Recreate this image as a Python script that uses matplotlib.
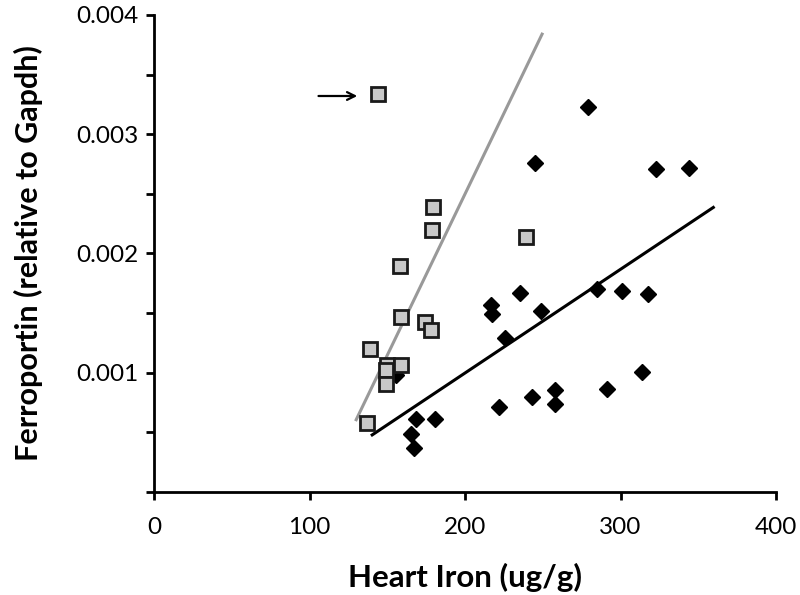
import matplotlib.pyplot as plt
from matplotlib.ticker import MultipleLocator

# ---- data ----
# group 1 (grey squares)
sq_iron = [144.2, 179.5, 178.9, 158.3, 158.9, 174.2, 178.0, 138.8,
           150.0, 158.7, 149.2, 148.9, 136.7, 239.1]
sq_fpn = [0.003335, 0.00239, 0.002195, 0.001898, 0.001468, 0.001428,
          0.001361, 0.001199, 0.001068, 0.001068, 0.00102, 0.000906,
          0.000576, 0.00214]

# group 2 (black diamonds)
dm_iron = [155.5, 168.8, 180.8, 165.0, 167.1, 216.6, 217.2, 235.4,
           248.9, 225.6, 284.9, 300.8, 317.9, 313.8, 291.3, 257.9,
           257.9, 243.1, 221.9, 279.1, 244.9, 322.6, 344.3]
dm_fpn = [0.000981, 0.000612, 0.000612, 0.000489, 0.000366, 0.001568,
          0.001495, 0.001669, 0.00152, 0.001291, 0.001702, 0.001683,
          0.00166, 0.001006, 0.000861, 0.000855, 0.00074, 0.000794,
          0.000715, 0.003226, 0.002761, 0.002711, 0.00272]

# trend lines (end points)
sq_trend_x = [129.6, 250.0]
sq_trend_y = [0.000595, 0.00385]
dm_trend_x = [139.5, 360.5]
dm_trend_y = [0.000472, 0.002393]

# outlier arrow
arrow_tail = (104.0, 0.00332)
arrow_head = (132.5, 0.00332)

plt.rcParams['font.family'] = ['Lato', 'DejaVu Sans']

fig = plt.figure(figsize=(8, 5.95), dpi=100)
ax = fig.add_axes([0.1925, 0.173, 0.7775, 0.802])

ax.plot(sq_trend_x, sq_trend_y, color='#999999', lw=2.2, solid_capstyle='butt', zorder=2)
ax.plot(dm_trend_x, dm_trend_y, color='black', lw=2.2, solid_capstyle='butt', zorder=2)

ax.plot(dm_iron, dm_fpn, ls='none', marker='D', ms=8, mfc='black',
        mec='black', zorder=3)
ax.plot(sq_iron, sq_fpn, ls='none', marker='s', ms=9.5, mfc='#c8c8c8',
        mec='#1a1a1a', mew=2, zorder=4)

ax.annotate('', xy=arrow_head, xytext=arrow_tail,
            arrowprops=dict(arrowstyle='->', color='black', lw=1.6,
                            mutation_scale=14))

ax.set_xlim(0, 400)
ax.set_ylim(0, 0.004)
ax.xaxis.set_major_locator(MultipleLocator(100))
ax.yaxis.set_minor_locator(MultipleLocator(0.0005))
ax.set_yticks([0.001, 0.002, 0.003, 0.004])
ax.set_yticklabels(['0.001', '0.002', '0.003', '0.004'])

for s in ['top', 'right']:
    ax.spines[s].set_visible(False)
for s in ['left', 'bottom']:
    ax.spines[s].set_linewidth(2)

ax.tick_params(axis='both', which='both', direction='out', length=6,
               width=2, labelsize=17.5, colors='black')
ax.tick_params(axis='x', pad=12)
ax.tick_params(axis='y', pad=5)

ax.set_xlabel('Heart Iron (ug/g)', fontsize=22.5, fontweight='bold', labelpad=18)
ax.set_ylabel('Ferroportin (relative to Gapdh)', fontsize=22,
              fontweight='bold', labelpad=24)

fig.savefig('out.png', dpi=100)
